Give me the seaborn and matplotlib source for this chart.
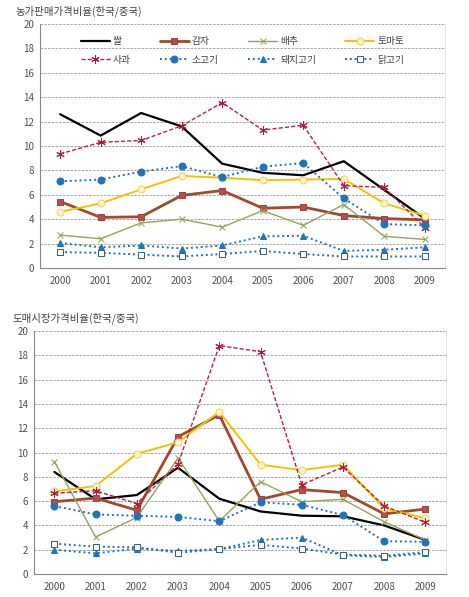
import matplotlib
matplotlib.use("Agg")
import matplotlib.pyplot as plt
import seaborn as sns

years = ["2000", "2001", "2002", "2003", "2004", "2005", "2006", "2007", "2008", "2009"]
names = ["쌀", "감자", "배추", "토마토", "사과", "소고기", "돼지고기", "닭고기"]

# 농가판매가격비율 (upper chart)
farm_rice = [12.6, 10.85, 12.7, 11.6, 8.55, 7.8, 7.6, 8.75, 6.4, 4.05]
farm_potato = [5.45, 4.15, 4.2, 5.95, 6.35, 4.9, 5.0, 4.3, 4.05, 3.95]
farm_cabbage = [2.7, 2.4, 3.7, 4.0, 3.35, 4.7, 3.5, 5.2, 2.6, 2.35]
farm_tomato = [4.6, 5.3, 6.45, 7.55, 7.4, 7.2, 7.25, 7.3, 5.3, 4.3]
farm_apple = [9.35, 10.3, 10.45, 11.65, 13.55, 11.3, 11.7, 6.75, 6.6, 3.3]
farm_beef = [7.1, 7.25, 7.9, 8.35, 7.45, 8.3, 8.6, 5.7, 3.6, 3.5]
farm_pork = [2.05, 1.7, 1.85, 1.6, 1.85, 2.6, 2.65, 1.4, 1.5, 1.7]
farm_chicken = [1.3, 1.25, 1.1, 0.95, 1.15, 1.4, 1.15, 0.95, 0.95, 0.95]

# 도매시장가격비율 (lower chart)
whole_rice = [8.4, 6.15, 6.5, 8.75, 6.2, 5.15, 4.8, 4.75, 4.0, 2.8]
whole_potato = [5.95, 6.25, 5.25, 11.3, 13.1, 6.15, 6.95, 6.7, 4.95, 5.35]
whole_cabbage = [9.25, 3.05, 4.65, 9.55, 4.35, 7.6, 5.95, 6.15, 4.3, 2.8]
whole_tomato = [6.8, 7.25, 9.9, 10.85, 13.35, 9.0, 8.55, 9.0, 5.4, 4.6]
whole_apple = [6.65, 6.85, 5.8, 9.05, 18.8, 18.3, 7.35, 8.8, 5.6, 4.25]
whole_beef = [5.6, 4.9, 4.8, 4.7, 4.35, 5.9, 5.7, 4.85, 2.7, 2.65]
whole_pork = [2.0, 1.7, 2.1, 1.9, 2.05, 2.8, 3.0, 1.55, 1.4, 1.7]
whole_chicken = [2.5, 2.25, 2.2, 1.75, 2.05, 2.4, 2.1, 1.6, 1.5, 1.8]

farm_series = [farm_rice, farm_potato, farm_cabbage, farm_tomato,
               farm_apple, farm_beef, farm_pork, farm_chicken]
whole_series = [whole_rice, whole_potato, whole_cabbage, whole_tomato,
                whole_apple, whole_beef, whole_pork, whole_chicken]

blue = "#2272B9"
styles = [
    dict(color="black", lw=1.6, ls="-", marker=None),
    dict(color="#9E4A2C", lw=2.0, ls="-", marker="s", ms=5, mfc="#B5504B", mec="#A0423D"),
    dict(color="#93A45F", lw=1.0, ls="-", marker="x", ms=4, mec="#93A45F"),
    dict(color="#F5C200", lw=1.4, ls="-", marker="o", ms=5, mfc="#FFF4C8", mec="#F5D060"),
    dict(color="#C0203A", lw=1.0, ls=(0, (3, 1.5)), marker=(6, 2, 0), ms=6, mec="#B01E35"),
    dict(color=blue, lw=1.4, ls=(0, (1, 1.5)), marker="o", ms=5, mfc=blue, mec=blue),
    dict(color=blue, lw=1.4, ls=(0, (1, 1.5)), marker="^", ms=5, mfc=blue, mec=blue),
    dict(color="#2A6EA8", lw=1.4, ls=(0, (1, 1.5)), marker="s", ms=5, mfc="white", mec="#3E5F7E"),
]

sns.set_style("white")
plt.rcParams["font.family"] = ["Noto Sans CJK KR", "DejaVu Sans"]

fig = plt.figure(figsize=(4.69, 5.97), dpi=100)
ax1 = fig.add_axes([0.085, 0.551, 0.864, 0.409])
ax2 = fig.add_axes([0.072, 0.0385, 0.879, 0.407])

x = list(range(len(years)))


def draw(ax, series):
    for name, vals, st in zip(names, series, styles):
        sns.lineplot(x=x, y=vals, ax=ax, label=name, **st)
    ax.set_xlim(-0.5, 9.5)
    ax.set_ylim(0, 20)
    ax.set_yticks(range(0, 21, 2))
    ax.set_xticks(x)
    ax.set_xticklabels(years)
    ax.set_xticks([i + 0.5 for i in range(-1, 10)], minor=True)
    ax.tick_params(axis="x", which="major", length=0, labelsize=7, colors="#505050", pad=6)
    ax.tick_params(axis="x", which="minor", length=3, color="#888888", direction="out")
    ax.tick_params(axis="y", length=0, labelsize=7, colors="#505050", pad=4)
    ax.yaxis.grid(True, linestyle=(0, (3, 1.5)), color="#999999", lw=0.6)
    ax.set_axisbelow(True)
    for s in ["left", "bottom"]:
        ax.spines[s].set_color("#888888")
        ax.spines[s].set_linewidth(0.8)
    ax.spines["top"].set_visible(False)
    ax.spines["right"].set_color("#DDDDDD")
    ax.spines["right"].set_linewidth(0.6)


draw(ax1, farm_series)
draw(ax2, whole_series)

fig.text(15 / 469, 1 - 11 / 597, "농가판매가격비율(한국/중국)", fontsize=7.5,
         color="#404040", va="center", ha="left")
fig.text(12 / 469, 1 - 318 / 597, "도매시장가격비율(한국/중국)", fontsize=7.5,
         color="#404040", va="center", ha="left")

ax2.get_legend().remove()
handles, labels = ax1.get_legend_handles_labels()
order = [0, 4, 1, 5, 2, 6, 3, 7]
leg = ax1.legend([handles[i] for i in order], [labels[i] for i in order],
                 loc="upper center", bbox_to_anchor=(0.5, 0.985), ncol=4, frameon=False,
                 fontsize=7, handlelength=3.0, columnspacing=3.0, handletextpad=0.3,
                 labelspacing=0.85)
for t in leg.get_texts():
    t.set_color("#404040")

fig.savefig("out.png", dpi=100)
